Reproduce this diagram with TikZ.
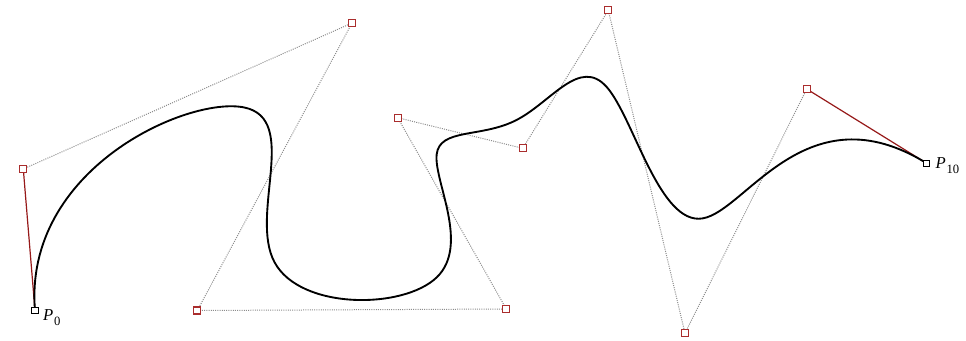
\documentclass[tikz,border=0pt]{standalone}
\usepackage{fontspec}
\setmainfont{Liberation Serif}
\usetikzlibrary{calc}
\pgfdeclarelayer{background}
\pgfsetlayers{background,main}
\definecolor{ctrlred}{RGB}{170,45,45}
\definecolor{tanred}{RGB}{150,25,25}
\definecolor{polygray}{RGB}{140,140,140}
\newcommand{\ptname}[2]{{\itshape #1}\kern0.6pt\raisebox{-4pt}{\fontsize{9.5}{10}\selectfont #2}}
\tikzset{
  ctrlpt/.style={rectangle, draw=ctrlred, fill=white, line width=0.9pt, minimum size=5.2pt, inner sep=0pt},
  endpt/.style={rectangle, draw=black, fill=white, line width=0.8pt, minimum size=4.6pt, inner sep=0pt},
  polyline/.style={draw=polygray, line width=0.75pt, dash pattern=on 0.75pt off 0.9pt},
  tangent/.style={draw=tanred, line width=0.9pt},
  spline/.style={draw=black, line width=1.4pt},
  ptlabel/.style={anchor=base west, inner sep=0pt, font=\fontsize{12.5}{15}\selectfont}
}
\begin{document}
\begin{tikzpicture}[x=0.75pt, y=-0.75pt]
\useasboundingbox (0,0) rectangle (966,340);

% control points of the clamped cubic B-spline
\node[endpt]  (P0)  at (35,310.5) {};
\node[ctrlpt] (P1)  at (23.3,169) {};
\node[ctrlpt] (P2)  at (352,23) {};
\node[ctrlpt] (P3)  at (197.3,310.5) {};
\node[ctrlpt] (P4)  at (506.3,309) {};
\node[ctrlpt] (P5)  at (397.7,117.7) {};
\node[ctrlpt] (P6)  at (522.7,148.3) {};
\node[ctrlpt] (P7)  at (608.3,10.3) {};
\node[ctrlpt] (P8)  at (685,333.3) {};
\node[ctrlpt] (P9)  at (806.7,89) {};
\node[endpt]  (P10) at (926.7,163.3) {};

% end point names
\node[ptlabel] (L0)  at ($(P0.center)+(7.8,9.5)$)  {\ptname{P}{0}};
\node[ptlabel] (L10) at ($(P10.center)+(8.6,5)$) {\ptname{P}{10}};

% Bezier points obtained by knot insertion
\coordinate (a1) at ($(P1.center)!0.5!(P2.center)$);
\coordinate (b1) at ($(P2.center)!0.33333!(P3.center)$);
\coordinate (c1) at ($(P2.center)!0.66667!(P3.center)$);
\coordinate (b2) at ($(P3.center)!0.33333!(P4.center)$);
\coordinate (c2) at ($(P3.center)!0.66667!(P4.center)$);
\coordinate (b3) at ($(P4.center)!0.33333!(P5.center)$);
\coordinate (c3) at ($(P4.center)!0.66667!(P5.center)$);
\coordinate (b4) at ($(P5.center)!0.33333!(P6.center)$);
\coordinate (c4) at ($(P5.center)!0.66667!(P6.center)$);
\coordinate (b5) at ($(P6.center)!0.33333!(P7.center)$);
\coordinate (c5) at ($(P6.center)!0.66667!(P7.center)$);
\coordinate (b6) at ($(P7.center)!0.33333!(P8.center)$);
\coordinate (c6) at ($(P7.center)!0.66667!(P8.center)$);
\coordinate (a7) at ($(P8.center)!0.5!(P9.center)$);
\coordinate (J1) at ($(a1)!0.5!(b1)$);
\coordinate (J2) at ($(c1)!0.5!(b2)$);
\coordinate (J3) at ($(c2)!0.5!(b3)$);
\coordinate (J4) at ($(c3)!0.5!(b4)$);
\coordinate (J5) at ($(c4)!0.5!(b5)$);
\coordinate (J6) at ($(c5)!0.5!(b6)$);
\coordinate (J7) at ($(c6)!0.5!(a7)$);

\begin{pgfonlayer}{background}
  % control polygon
  \draw[polyline] (P1.center) -- (P2.center) -- (P3.center) -- (P4.center)
    -- (P5.center) -- (P6.center) -- (P7.center) -- (P8.center) -- (P9.center);
  % end tangents
  \draw[tangent] (P0.center) -- (P1.center);
  \draw[tangent] (P9.center) -- (P10.center);
  % the spline
  \draw[spline] (P0.center)
    .. controls (P1.center) and (a1) .. (J1)
    .. controls (b1) and (c1) .. (J2)
    .. controls (b2) and (c2) .. (J3)
    .. controls (b3) and (c3) .. (J4)
    .. controls (b4) and (c4) .. (J5)
    .. controls (b5) and (c5) .. (J6)
    .. controls (b6) and (c6) .. (J7)
    .. controls (a7) and (P9.center) .. (P10.center);
\end{pgfonlayer}
\end{tikzpicture}
\end{document}
